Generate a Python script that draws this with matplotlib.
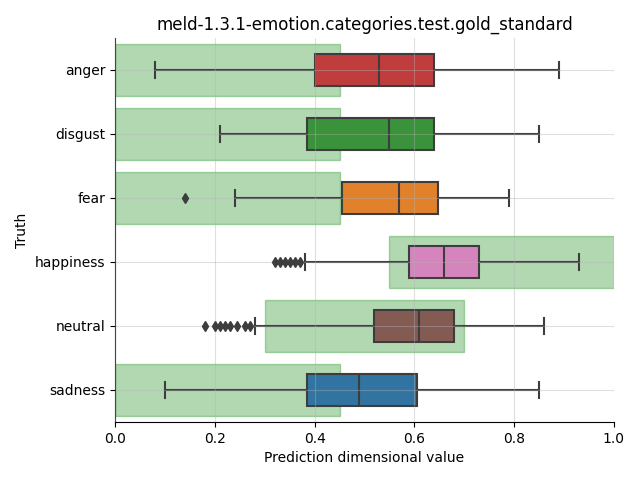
import colorsys
import matplotlib
matplotlib.use("Agg")
import matplotlib.pyplot as plt
import matplotlib.colors as mcolors

categories = ["anger", "disgust", "fear", "happiness", "neutral", "sadness"]
whislo = [0.08, 0.21, 0.24, 0.38, 0.28, 0.10]
q1 = [0.40, 0.385, 0.455, 0.59, 0.52, 0.385]
med = [0.53, 0.55, 0.57, 0.66, 0.61, 0.49]
q3 = [0.64, 0.64, 0.647, 0.73, 0.68, 0.605]
whishi = [0.89, 0.85, 0.79, 0.93, 0.86, 0.85]
fliers = [
    [],
    [],
    [0.14],
    [0.32, 0.33, 0.34, 0.35, 0.36, 0.37],
    [0.18, 0.20, 0.21, 0.22, 0.23, 0.245, 0.26, 0.27],
    [],
]
span_lo = [0.0, 0.0, 0.0, 0.55, 0.3, 0.0]
span_hi = [0.45, 0.45, 0.45, 1.0, 0.7, 0.45]
base_colors = ["tab:red", "tab:green", "tab:orange", "tab:pink", "tab:brown", "tab:blue"]


def desat(c, p=0.75):
    r, g, b = mcolors.to_rgb(c)
    h, l, s = colorsys.rgb_to_hls(r, g, b)
    return colorsys.hls_to_rgb(h, l, s * p)


fig, ax = plt.subplots(figsize=(6.4, 4.8), dpi=100)
fig.subplots_adjust(left=0.18, right=0.959, bottom=0.121, top=0.921)

pos = list(range(len(categories)))
ax.barh(pos, [h - l for l, h in zip(span_lo, span_hi)], left=span_lo, height=0.8,
        color="green", alpha=0.3, edgecolor="green", linewidth=1, zorder=1)

stats = []
for i in pos:
    stats.append(dict(whislo=whislo[i], q1=q1[i], med=med[i], q3=q3[i],
                      whishi=whishi[i], fliers=fliers[i]))
lc = "#3d3d3d"
bp = ax.bxp(stats, positions=pos, vert=False, widths=0.5, patch_artist=True,
            boxprops=dict(edgecolor=lc, linewidth=1.5),
            medianprops=dict(color=lc, linewidth=1.5),
            whiskerprops=dict(color=lc, linewidth=1.5),
            capprops=dict(color=lc, linewidth=1.5),
            flierprops=dict(marker="d", markerfacecolor=lc, markeredgecolor=lc, markersize=5),
            capwidths=0.25, zorder=2)
for patch, c in zip(bp["boxes"], base_colors):
    patch.set_facecolor(desat(c))
for f in bp["fliers"]:
    f.set_zorder(4)

ax.set_axisbelow(False)
ax.grid(True, color="#b0b0b0", alpha=0.4, linewidth=0.8, zorder=3)
ax.set_yticks(pos)
ax.set_yticklabels(categories)
ax.set_ylim(len(categories) - 0.5, -0.5)
ax.set_xlim(0, 1)
ax.set_xticks([0, 0.2, 0.4, 0.6, 0.8, 1.0])
ax.set_xticklabels(["0.0", "0.2", "0.4", "0.6", "0.8", "1.0"])
ax.spines["top"].set_visible(False)
ax.spines["right"].set_visible(False)
ax.set_xlabel("Prediction dimensional value")
ax.set_ylabel("Truth")
ax.set_title("meld-1.3.1-emotion.categories.test.gold_standard")
fig.savefig("out.png", dpi=100)
